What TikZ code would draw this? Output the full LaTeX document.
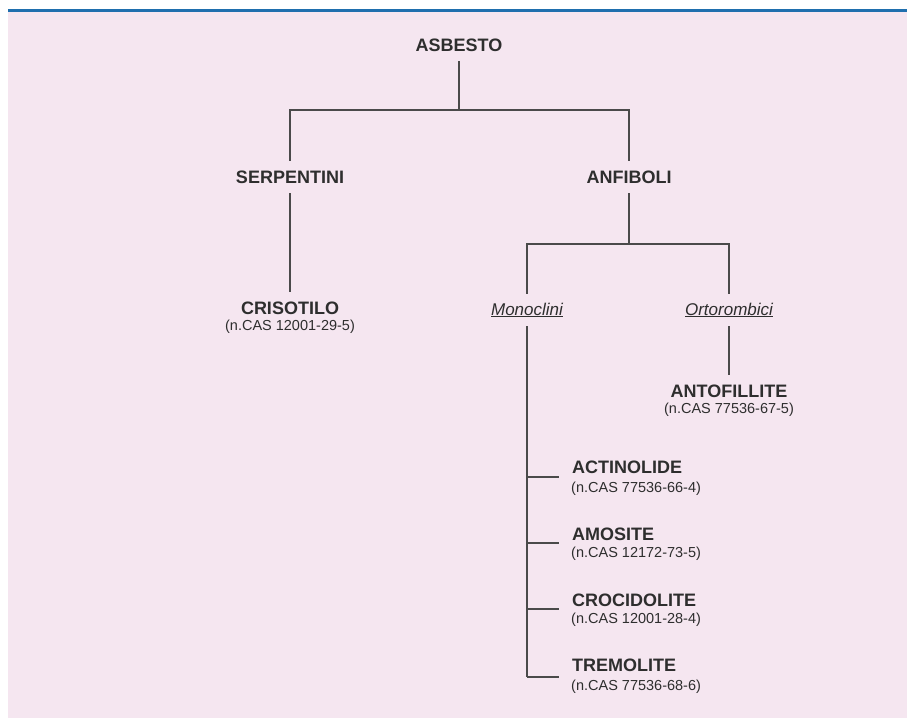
\documentclass[tikz,border=0pt]{standalone}
\usepackage{fontspec}
\setmainfont{Liberation Sans}
\definecolor{bgpink}{HTML}{F5E6F0}
\definecolor{topblue}{HTML}{1F6FAE}
\definecolor{linegray}{HTML}{4A4A4A}
\definecolor{txt}{HTML}{2E2E2E}
\begin{document}
\begin{tikzpicture}[x=1pt,y=-1pt,
  title/.style={font=\fontsize{18}{20}\selectfont\bfseries, text=txt, inner sep=0pt, minimum height=32pt},
  ltitle/.style={font=\fontsize{18}{20}\selectfont\bfseries, text=txt, inner sep=0pt, anchor=west},
  cas/.style={font=\fontsize{14.5}{16}\selectfont, text=txt, inner sep=0pt},
  sub/.style={font=\fontsize{17}{19}\selectfont\itshape, text=txt, inner sep=0pt, minimum height=32pt},
  conn/.style={draw=linegray, line width=1.4pt}]
\useasboundingbox (0,0) rectangle (907,718);
\fill[bgpink] (8,12) rectangle (907,718);
\fill[topblue] (8,9) rectangle (907,12);

\node[title] (asb) at (459,45) {ASBESTO};
\node[title] (serp) at (290,177) {SERPENTINI};
\node[title] (anf) at (629,177) {ANFIBOLI};
\node[title] (cris) at (290,308) {CRISOTILO};
\node[cas] (criscas) at (290,327) {(n.CAS 12001-29-5)};
\node[sub] (mono) at (527,310) {\underline{Monoclini}};
\node[sub] (orto) at (729,310) {\underline{Ortorombici}};
\node[title] (antof) at (729,391) {ANTOFILLITE};
\node[cas] (antofcas) at (729,410) {(n.CAS 77536-67-5)};

\node[ltitle] (act) at (572,467) {ACTINOLIDE};
\node[cas, anchor=west] (actcas) at (571,489) {(n.CAS 77536-66-4)};
\node[ltitle] (amo) at (572,534) {AMOSITE};
\node[cas, anchor=west] (amocas) at (571,554) {(n.CAS 12172-73-5)};
\node[ltitle] (cro) at (572,600) {CROCIDOLITE};
\node[cas, anchor=west] (crocas) at (571,620) {(n.CAS 12001-28-4)};
\node[ltitle] (tre) at (572,665) {TREMOLITE};
\node[cas, anchor=west] (trecas) at (571,687) {(n.CAS 77536-68-6)};

\coordinate (j0) at (459,110);
\coordinate (j1) at (629,244);
\coordinate (t1) at (527,477);
\coordinate (e1) at (559,477);
\coordinate (t2) at (527,543);
\coordinate (e2) at (559,543);
\coordinate (t3) at (527,609);
\coordinate (e3) at (559,609);
\coordinate (t4) at (527,677);
\coordinate (e4) at (559,677);

\draw[conn] (asb.south) -- (j0);
\draw[conn] (serp.north) -- (serp.north |- j0) -- (anf.north |- j0) -- (anf.north);
\draw[conn] (serp.south) -- (cris.north);
\draw[conn] (anf.south) -- (j1);
\draw[conn] (mono.north) -- (mono.north |- j1) -- (orto.north |- j1) -- (orto.north);
\draw[conn] (orto.south) -- (antof.north);
\draw[conn] (mono.south) -- (t4);
\draw[conn] (t1) -- (e1);
\draw[conn] (t2) -- (e2);
\draw[conn] (t3) -- (e3);
\draw[conn] (t4) -- (e4);
\end{tikzpicture}
\end{document}
